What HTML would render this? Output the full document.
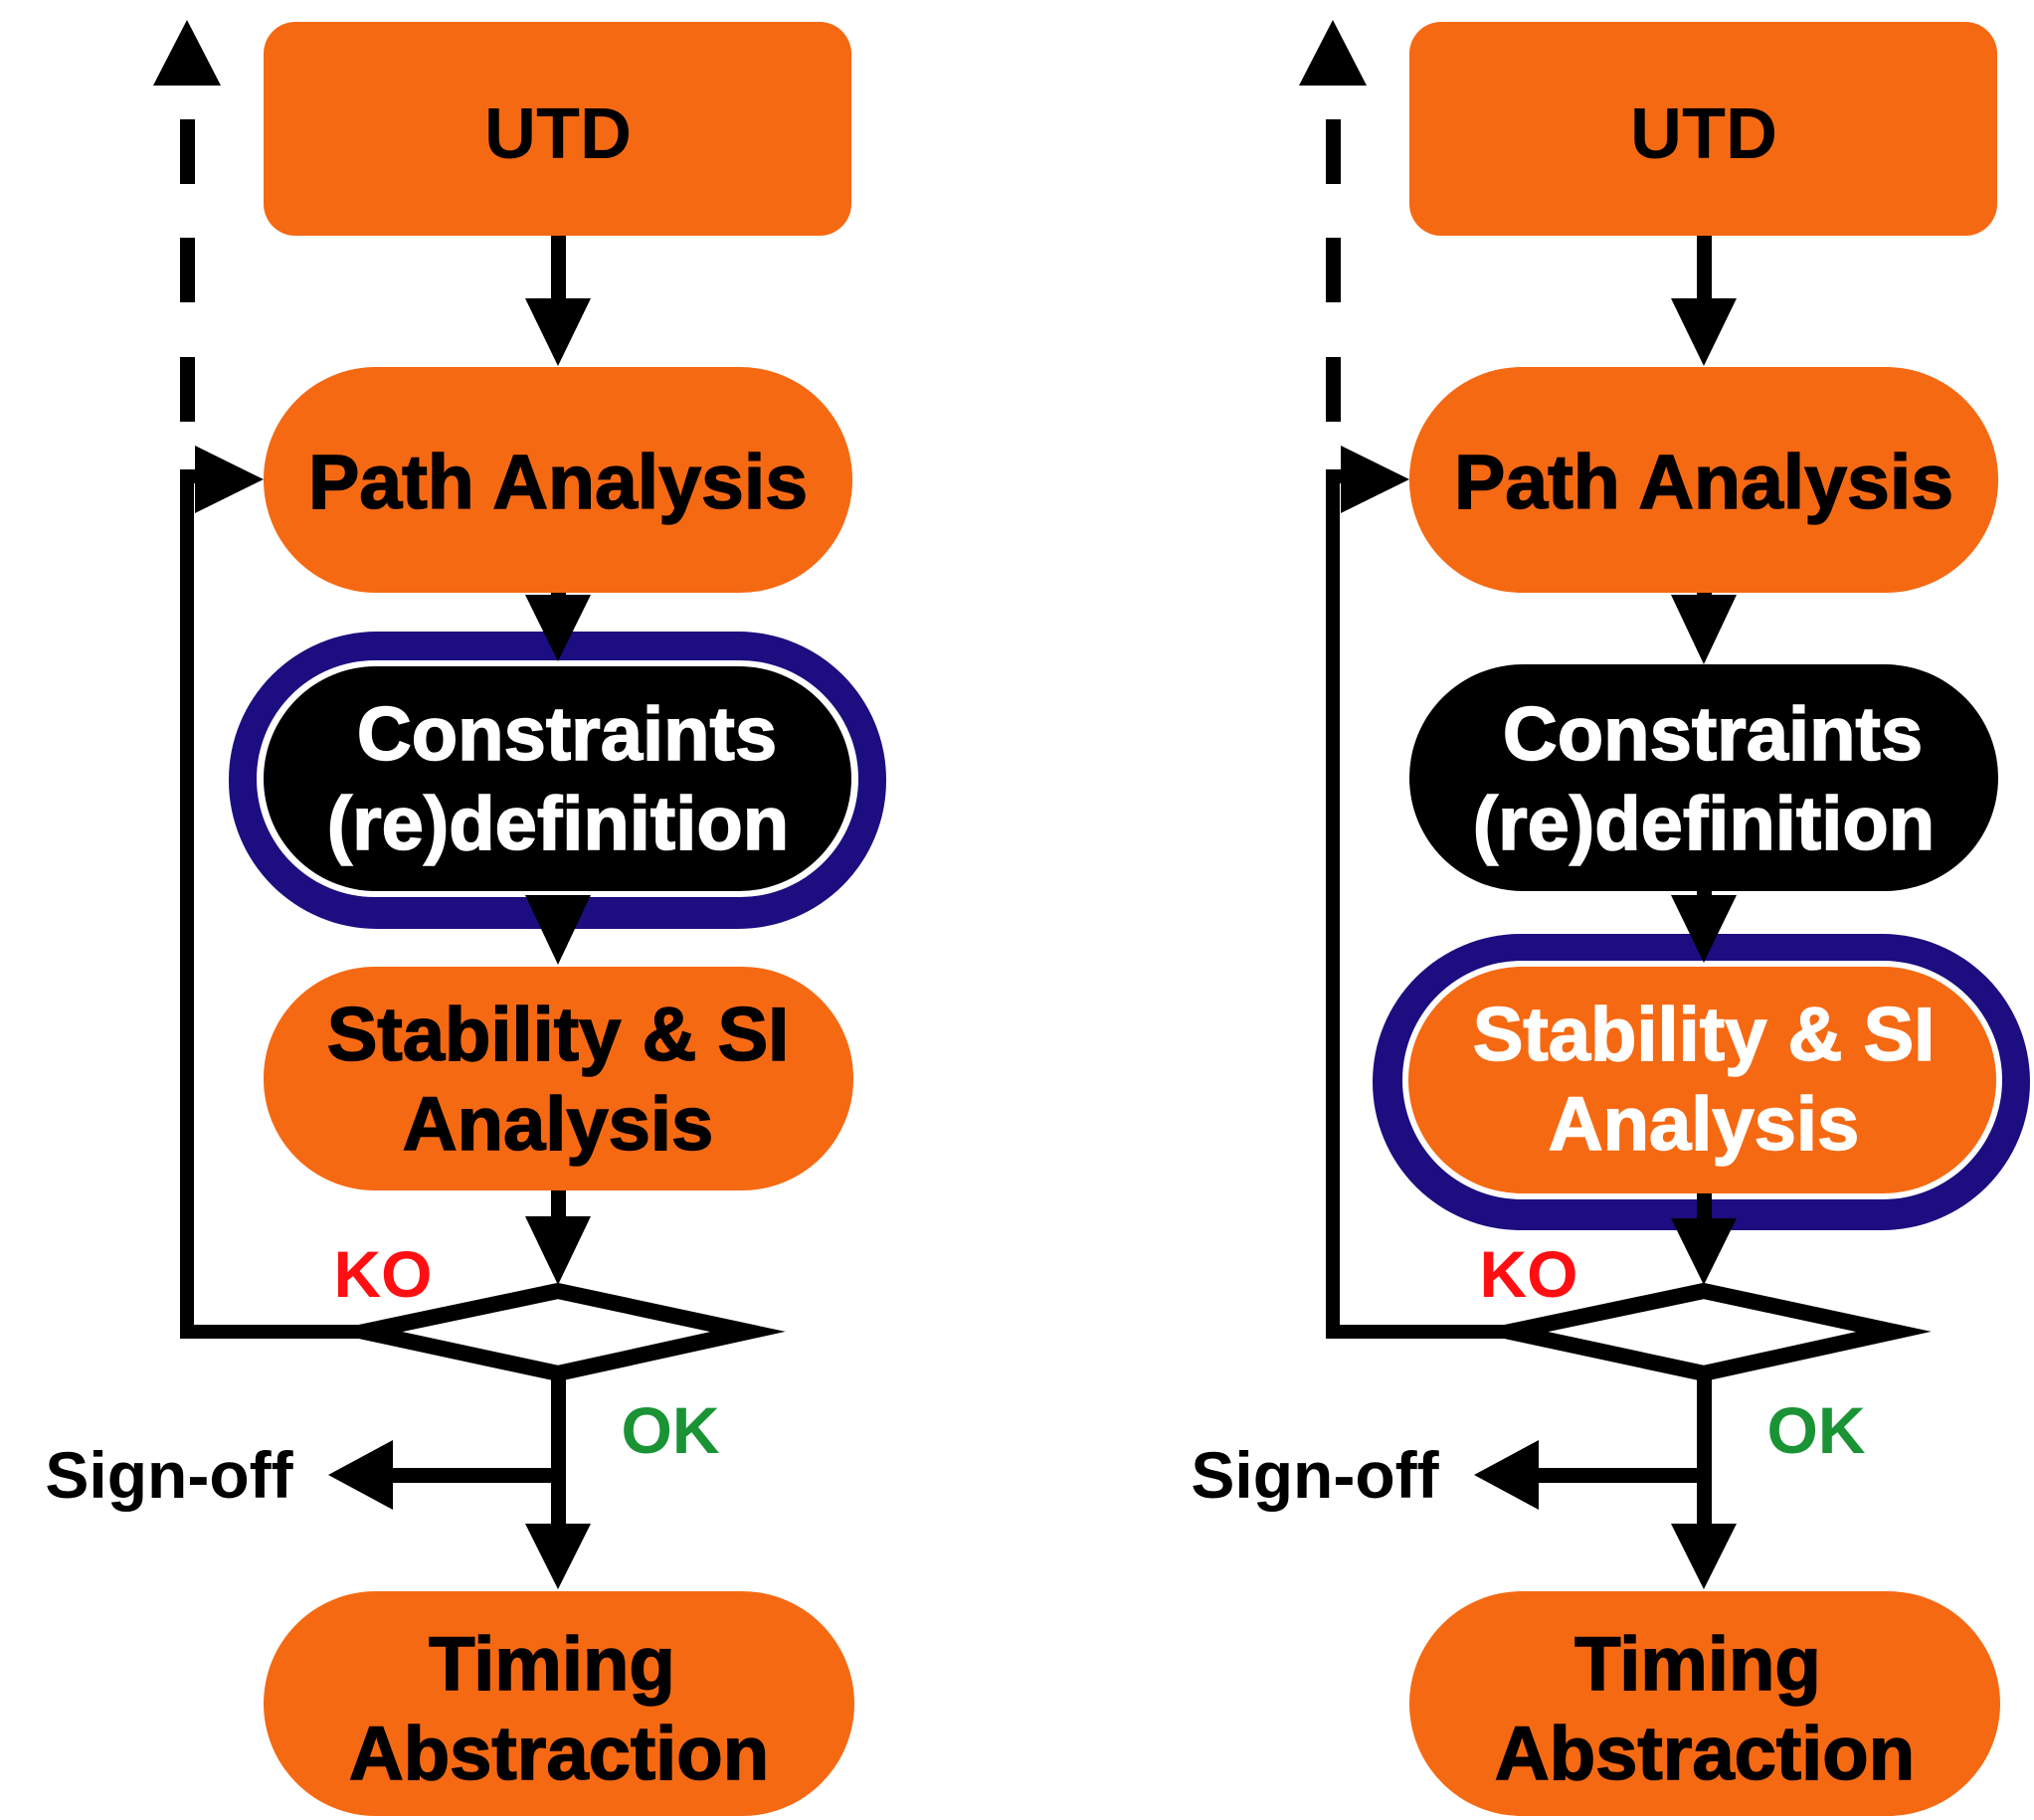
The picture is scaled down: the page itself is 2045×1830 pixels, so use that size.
<!DOCTYPE html>
<html><head><meta charset="utf-8"><style>
html,body{margin:0;padding:0;background:#fff;}
svg{display:block;}
text{font-family:"Liberation Sans",Arial,sans-serif;font-weight:bold;text-anchor:middle;}
</style></head><body>
<svg width="2045" height="1830" viewBox="0 0 2045 1830" xmlns="http://www.w3.org/2000/svg">
<defs>
<g id="common">
  <rect x="181" y="120" width="15" height="65" fill="#000"/>
  <rect x="181" y="239" width="15" height="65" fill="#000"/>
  <rect x="181" y="359" width="15" height="65" fill="#000"/>
  <polygon points="188,20 154,86 222,86" fill="#000"/>
  <polyline points="360,1339 188,1339 188,479 205,479" fill="none" stroke="#000" stroke-width="14"/>
  <polygon points="265,482 196,448 196,516" fill="#000"/>
  <rect x="265" y="22" width="591" height="215" rx="32" fill="#f66913"/>
  <text x="561" y="159" font-size="72" fill="#000">UTD</text>
  <rect x="554" y="237" width="15" height="66" fill="#000"/>
  <polygon points="528,300 594,300 561,368" fill="#000"/>
  <rect x="265" y="369" width="592" height="227" rx="113" fill="#f66913"/>
  <text x="561" y="511" font-size="77" fill="#000" stroke="#000" stroke-width="1.5">Path Analysis</text>
  <polygon points="561,1298 366,1339 561,1381 752,1339" fill="#fff" stroke="#000" stroke-width="16" stroke-linejoin="miter" stroke-miterlimit="20"/>
  <text x="385" y="1304" font-size="66" fill="#ff0f12">KO</text>
  <text x="674" y="1461" font-size="66" fill="#1a9335">OK</text>
  <rect x="554" y="1385" width="15" height="150" fill="#000"/>
  <polygon points="528,1532 594,1532 561,1598" fill="#000"/>
  <rect x="390" y="1476" width="170" height="15" fill="#000"/>
  <polygon points="330,1483 395,1448 395,1518" fill="#000"/>
  <text x="170" y="1506" font-size="66" fill="#000">Sign-off</text>
  <rect x="265" y="1600" width="594" height="226" rx="113" fill="#f66913"/>
  <text x="555" y="1699" font-size="76" fill="#000" stroke="#000" stroke-width="1.5">Timing</text>
  <text x="562" y="1789" font-size="76" fill="#000" stroke="#000" stroke-width="1.5">Abstraction</text>
</g>
</defs>

<!-- LEFT -->
<use href="#common"/>
<rect x="230" y="635" width="661" height="299" rx="149" fill="#1c0e80"/>
<rect x="258" y="664" width="605" height="238" rx="119" fill="#fff"/>
<rect x="265" y="670" width="591" height="226" rx="113" fill="#000"/>
<rect x="554" y="596" width="15" height="10" fill="#000"/>
<polygon points="528,598 594,598 561,665" fill="#000"/>
<text x="570" y="764" font-size="76" fill="#fff" stroke="#fff" stroke-width="1.5">Constraints</text>
<text x="561" y="854" font-size="76" fill="#fff" stroke="#fff" stroke-width="1.5">(re)definition</text>
<polygon points="528,900 594,900 561,970" fill="#000"/>
<rect x="265" y="972" width="593" height="225" rx="112" fill="#f66913"/>
<text x="561" y="1066" font-size="76" fill="#000" stroke="#000" stroke-width="1.5">Stability &amp; SI</text>
<text x="561" y="1156" font-size="76" fill="#000" stroke="#000" stroke-width="1.5">Analysis</text>
<rect x="554" y="1197" width="15" height="30" fill="#000"/>
<polygon points="528,1223 594,1223 561,1292" fill="#000"/>

<!-- RIGHT -->
<g transform="translate(1152,0)">
<use href="#common"/>
<rect x="554" y="596" width="15" height="10" fill="#000"/>
<polygon points="528,598 594,598 561,668" fill="#000"/>
<rect x="265" y="668" width="592" height="228" rx="114" fill="#000"/>
<text x="570" y="764" font-size="76" fill="#fff" stroke="#fff" stroke-width="1.5">Constraints</text>
<text x="561" y="854" font-size="76" fill="#fff" stroke="#fff" stroke-width="1.5">(re)definition</text>
<rect x="228" y="939" width="661" height="298" rx="149" fill="#1c0e80"/>
<rect x="258" y="966" width="603" height="240" rx="120" fill="#fff"/>
<rect x="264" y="972" width="591" height="228" rx="114" fill="#f66913"/>
<rect x="554" y="896" width="15" height="10" fill="#000"/>
<polygon points="528,900 594,900 561,968" fill="#000"/>
<text x="561" y="1066" font-size="76" fill="#fff" stroke="#fff" stroke-width="1.5">Stability &amp; SI</text>
<text x="561" y="1156" font-size="76" fill="#fff" stroke="#fff" stroke-width="1.5">Analysis</text>
<rect x="554" y="1200" width="15" height="30" fill="#000"/>
<polygon points="528,1225 594,1225 561,1292" fill="#000"/>
</g>
</svg>
</body></html>
